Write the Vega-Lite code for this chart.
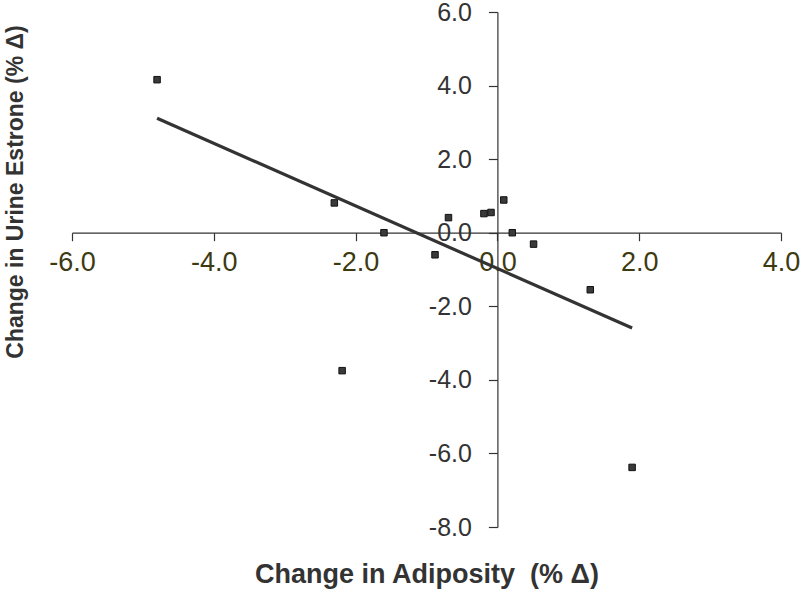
{
  "$schema": "https://vega.github.io/schema/vega-lite/v6.json",
  "width": 709,
  "height": 515,
  "autosize": {"type": "none"},
  "padding": {"left": 72, "top": 12, "right": 19, "bottom": 65},
  "background": "white",
  "config": {"view": {"stroke": null}, "font": "Liberation Sans"},
  "datasets": {
    "pts": [
      {"x": -4.8, "y": 4.16},
      {"x": -2.3, "y": 0.81},
      {"x": -2.19, "y": -3.75},
      {"x": -1.6, "y": 0.0},
      {"x": -0.88, "y": -0.6},
      {"x": -0.69, "y": 0.41},
      {"x": -0.19, "y": 0.52},
      {"x": -0.09, "y": 0.55},
      {"x": 0.09, "y": 0.89},
      {"x": 0.21, "y": 0.0},
      {"x": 0.51, "y": -0.31},
      {"x": 1.31, "y": -1.55},
      {"x": 1.9, "y": -6.38}
    ],
    "fit": [
      {"x": -4.8, "y": 3.11},
      {"x": 1.9, "y": -2.59}
    ]
  },
  "encoding": {
    "x": {
      "field": "x",
      "type": "quantitative",
      "scale": {"domain": [-6, 4], "nice": false, "zero": false},
      "axis": {
        "orient": "bottom",
        "offset": -294.3,
        "values": [-6, -4, -2, 0, 2, 4],
        "labelExpr": "replace(format(datum.value, '.1f'), '\u2212', '-')",
        "grid": false,
        "domainColor": "#333333",
        "domainWidth": 1.2,
        "tickColor": "#333333",
        "tickWidth": 1.2,
        "tickSize": 8,
        "labelFontSize": 27,
        "labelColor": "#3d3a12",
        "labelPadding": 9,
        "labelFlush": false,
        "labelOverlap": false,
        "title": "Change in Adiposity\u00a0 (% Δ)",
        "titleFontSize": 27,
        "titleFontWeight": "bold",
        "titleColor": "#333333",
        "titleBaseline": "alphabetic",
        "titleX": 354.5,
        "titleY": 350
      }
    },
    "y": {
      "field": "y",
      "type": "quantitative",
      "scale": {"domain": [-8, 6], "nice": false, "zero": false},
      "axis": {
        "orient": "left",
        "offset": -425.4,
        "values": [-8, -6, -4, -2, 0, 2, 4, 6],
        "labelExpr": "replace(format(datum.value, '.1f'), '\u2212', '-')",
        "grid": false,
        "domainColor": "#333333",
        "domainWidth": 1.2,
        "tickColor": "#333333",
        "tickWidth": 1.2,
        "tickSize": 9,
        "labelFontSize": 25,
        "labelColor": "#333333",
        "labelPadding": 17,
        "labelFlush": false,
        "labelOverlap": false,
        "title": "Change in Urine Estrone (% Δ)",
        "titleFontSize": 23,
        "titleFontWeight": "bold",
        "titleColor": "#333333",
        "titleAngle": -90,
        "titleBaseline": "alphabetic",
        "titleAlign": "center",
        "titleX": -475.4,
        "titleY": 179.5
      }
    }
  },
  "layer": [
    {
      "data": {"name": "fit"},
      "mark": {"type": "line", "color": "#333333", "strokeWidth": 3.2}
    },
    {
      "data": {"name": "pts"},
      "mark": {"type": "square", "size": 42, "fill": "#3a3a3a", "stroke": "#111111", "strokeWidth": 1, "opacity": 1}
    }
  ]
}
